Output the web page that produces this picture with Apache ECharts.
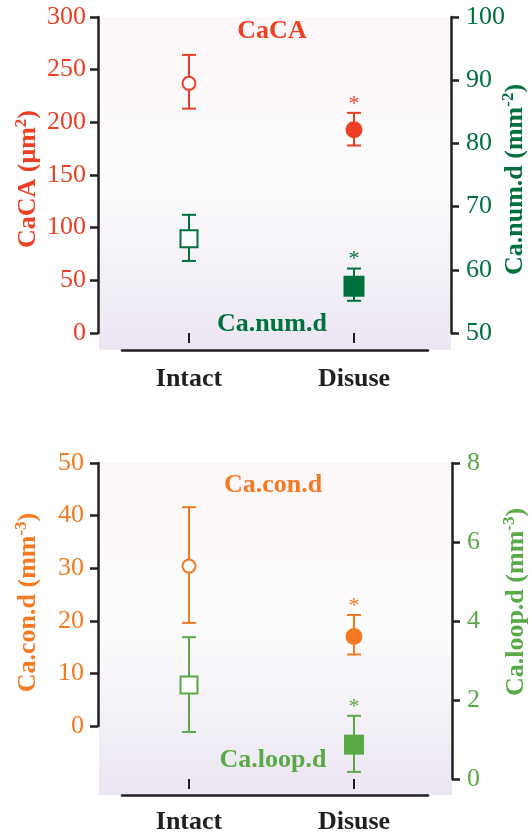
<!DOCTYPE html>
<html><head><meta charset="utf-8">
<script src="https://cdn.jsdelivr.net/npm/echarts@6/dist/echarts.min.js"></script>
<style>html,body{margin:0;padding:0;background:#fff}#c{width:532px;height:834px}</style>
</head><body><div id="c"></div>
<script>
// ---- data ----
const categories = ['Intact', 'Disuse'];
const caCA_mean = [237, 193];
const caCA_low  = [213, 178];
const caCA_high = [264, 209];
const caNum_mean = [64.9, 57.4];
const caNum_low  = [61.4, 55.1];
const caNum_high = [68.7, 60.2];
const caCon_mean = [30.4, 17.0];
const caCon_low  = [19.6, 13.6];
const caCon_high = [41.6, 21.1];
const caLoop_mean = [2.38, 0.87];
const caLoop_low  = [1.19, 0.18];
const caLoop_high = [3.59, 1.60];
const significant = [false, true];
const hollow = [true, false];
// axis ranges [min, max, interval]
const axisCaCA  = [0, 300, 50];
const axisCaNum = [50, 100, 10];
const axisCaCon = [0, 50, 10];
const axisCaLoop = [0, 8, 2];

// ---- styles ----
const FONT = '"Liberation Serif", "Times New Roman", serif';
const AX = '#231f20';
const RED = '#ee3f24', DGREEN = '#00703c', ORANGE = '#f47920', LGREEN = '#5aa947';
const bgGrad = {type:'linear', x:0, y:0, x2:0, y2:1, colorStops:[
  {offset:0, color:'#fdf7f9'}, {offset:0.5, color:'#fdfcfd'}, {offset:1, color:'#ebe6f2'}]};

function valueAxis(gridIndex, pos, offset, range, color, name, nameGap, padding, margin) {
  return {
    type:'value', gridIndex, position: pos, offset,
    min: range[0], max: range[1], interval: range[2],
    axisLine:{show:true, lineStyle:{color:AX, width:2.5}},
    axisTick:{show:true, length:8, lineStyle:{color:AX, width:2.5}},
    splitLine:{show:false},
    axisLabel:{color, fontFamily:FONT, fontSize:26, margin},
    name, nameLocation:'middle', nameGap, nameMoveOverlap:false,
    nameTextStyle:{color, fontFamily:FONT, fontSize:26, fontWeight:'bold', lineHeight:30, padding,
      rich:{sup:{color, fontFamily:FONT, fontSize:17, fontWeight:'bold', verticalAlign:'top', lineHeight:30}}}
  };
}
function hiddenAxis(type, gridIndex) { return {type, gridIndex, show:false}; }
function lineAxis(gridIndex) {
  return {type:'value', gridIndex, min:0, max:1, axisLine:{show:true, onZero:false, lineStyle:{color:AX, width:2.5}},
    axisTick:{show:false}, axisLabel:{show:false}, splitLine:{show:false}};
}
function catAxis(gridIndex, offset, margin) {
  return {type:'category', gridIndex, data:categories, boundaryGap:true, position:'bottom', offset,
    axisLine:{show:false}, axisTick:{show:true, alignWithLabel:true, length:10, lineStyle:{color:AX, width:2}},
    axisLabel:{color:AX, fontFamily:FONT, fontSize:26, fontWeight:'bold', margin}, splitLine:{show:false}};
}

function errSeries(name, xAxisIndex, yAxisIndex, low, high, color) {
  return {
    type:'custom', name, xAxisIndex, yAxisIndex, z:2,
    data: categories.map((c, i) => [i, low[i], high[i]]),
    encode:{x:0, y:[1, 2]},
    renderItem:(params, api) => {
      const x = api.value(0);
      const p1 = api.coord([x, api.value(1)]);
      const p2 = api.coord([x, api.value(2)]);
      const w = 7;
      const st = {stroke:color, lineWidth:2};
      const ch = [
        {type:'line', shape:{x1:p1[0], y1:p1[1], x2:p2[0], y2:p2[1]}, style:st},
        {type:'line', shape:{x1:p1[0]-w, y1:p1[1], x2:p1[0]+w, y2:p1[1]}, style:st},
        {type:'line', shape:{x1:p2[0]-w, y1:p2[1], x2:p2[0]+w, y2:p2[1]}, style:st}
      ];
      if (significant[params.dataIndex]) {
        ch.push({type:'text', x:p2[0], y:p2[1]-9, style:{text:'*', align:'center', verticalAlign:'middle',
          fill:color, font:'22px ' + FONT}});
      }
      return {type:'group', children:ch};
    }
  };
}
function markSeries(name, xAxisIndex, yAxisIndex, mean, symbol, sizes, color) {
  return {
    type:'scatter', name, xAxisIndex, yAxisIndex, z:3, symbol,
    data: mean.map((v, i) => ({
      value:[i, v], symbolSize: sizes[i],
      itemStyle: hollow[i] ? {color:'#fff', borderColor:color, borderWidth:2, opacity:1} : {color, borderWidth:0, opacity:1}
    })),
    itemStyle:{opacity:1},
    emphasis:{disabled:true}
  };
}

const G = {outerBoundsMode:'none', containLabel:false};
const option = {
  animation:false,
  grid:[
    Object.assign({left:99, top:17, width:352, height:333, show:true, borderWidth:0, backgroundColor:bgGrad}, G),
    Object.assign({left:122, top:17, width:306, height:333}, G),
    Object.assign({left:106.5, top:17, width:330, height:316}, G),
    Object.assign({left:99, top:463, width:353, height:332, show:true, borderWidth:0, backgroundColor:bgGrad}, G),
    Object.assign({left:122, top:463, width:306, height:332}, G),
    Object.assign({left:106.5, top:463, width:330, height:263}, G),
    Object.assign({left:106.5, top:463, width:330, height:316}, G)
  ],
  xAxis:[
    hiddenAxis('category', 0),
    lineAxis(1),
    catAxis(2, 17, 16),
    hiddenAxis('category', 3),
    lineAxis(4),
    Object.assign(catAxis(5, 0, 12), {show:false}),
    catAxis(6, 16, 14)
  ],
  yAxis:[
    hiddenAxis('value', 0),
    hiddenAxis('value', 1),
    valueAxis(2, 'left', 8.5, axisCaCA, RED, 'CaCA (μm{sup|2})', 55, [0, 8, 0, 0], 12),
    valueAxis(2, 'right', 14.5, axisCaNum, DGREEN, 'Ca.num.d (mm{sup|-2})', 49, [0, 9, 0, 0], 15),
    hiddenAxis('value', 3),
    hiddenAxis('value', 4),
    valueAxis(5, 'left', 8.5, axisCaCon, ORANGE, 'Ca.con.d (mm{sup|-3})', 55, [0, 16, 0, 0], 14),
    valueAxis(6, 'right', 15.5, axisCaLoop, LGREEN, 'Ca.loop.d (mm{sup|-3})', 49, [0, 0, 0, 38], 15)
  ],
  series:[
    errSeries('CaCA', 2, 2, caCA_low, caCA_high, RED),
    markSeries('CaCA', 2, 2, caCA_mean, 'circle', [13, 17], RED),
    errSeries('Ca.num.d', 2, 3, caNum_low, caNum_high, DGREEN),
    markSeries('Ca.num.d', 2, 3, caNum_mean, 'rect', [17, 21], DGREEN),
    errSeries('Ca.con.d', 5, 6, caCon_low, caCon_high, ORANGE),
    markSeries('Ca.con.d', 5, 6, caCon_mean, 'circle', [13, 17], ORANGE),
    errSeries('Ca.loop.d', 6, 7, caLoop_low, caLoop_high, LGREEN),
    markSeries('Ca.loop.d', 6, 7, caLoop_mean, 'rect', [17, 20], LGREEN)
  ],
  graphic:[
    {type:'text', x:272, y:31, z:10, style:{text:'CaCA', align:'center', verticalAlign:'middle', fill:RED, font:'bold 26px ' + FONT}},
    {type:'text', x:272, y:324, z:10, style:{text:'Ca.num.d', align:'center', verticalAlign:'middle', fill:DGREEN, font:'bold 26px ' + FONT}},
    {type:'text', x:273, y:485, z:10, style:{text:'Ca.con.d', align:'center', verticalAlign:'middle', fill:ORANGE, font:'bold 26px ' + FONT}},
    {type:'text', x:273, y:760, z:10, style:{text:'Ca.loop.d', align:'center', verticalAlign:'middle', fill:LGREEN, font:'bold 26px ' + FONT}}
  ]
};
const chart = echarts.init(document.getElementById('c'), null, {renderer:'canvas'});
chart.setOption(option);
</script></body></html>
